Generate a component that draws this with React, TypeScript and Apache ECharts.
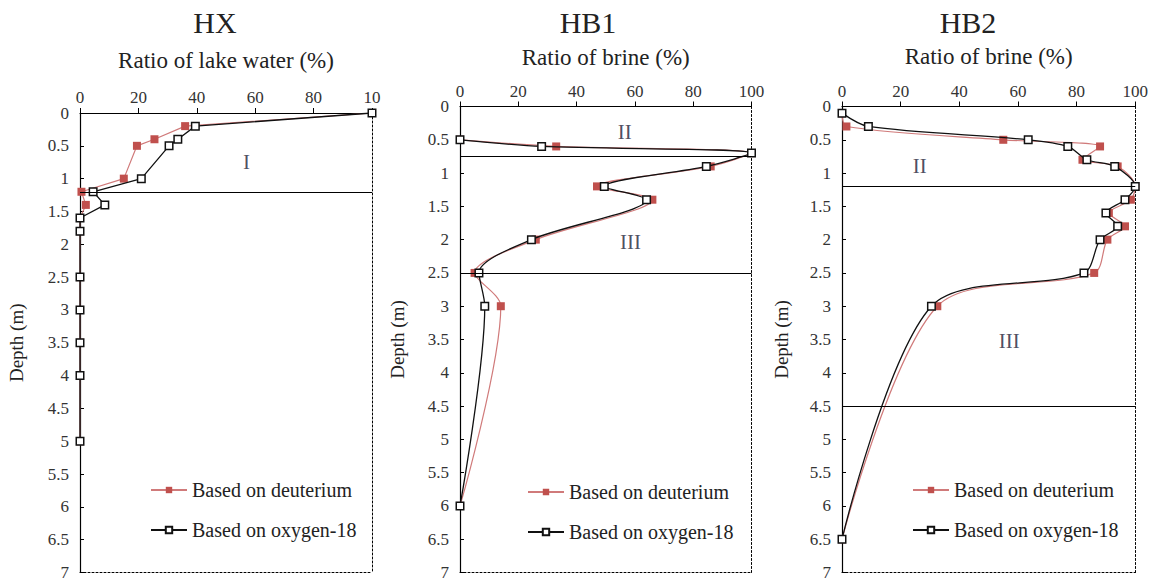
import { useEffect, useRef } from 'react';
import * as echarts from 'echarts';

const PANEL_TITLES = ['HX', 'HB1', 'HB2'];
const X_AXIS_NAMES = ['Ratio of lake water (%)', 'Ratio of brine (%)', 'Ratio of brine (%)'];
const Y_AXIS_NAME = 'Depth (m)';
const SERIES_NAMES = ['Based on deuterium', 'Based on oxygen-18'];

// HX
const HX_DEPTH = [0, 0.2, 0.4, 0.5, 1.0, 1.2, 1.4, 1.6, 1.8, 2.5, 3, 3.5, 4, 5];
const HX_DEUTERIUM = [100, 36, 25.5, 19.5, 15, 0.5, 2, 0, 0, 0, 0, 0, 0, 0];
const HX_OXYGEN18 = [100, 39.5, 33.5, 30.5, 21, 4.5, 8.5, 0, 0, 0, 0, 0, 0, 0];
const HX_BOUNDARIES = [1.2];
const HX_ZONES = [{ text: 'I', x: 57, depth: 0.74 }];

// HB1
const HB1_DEPTH = [0.5, 0.6, 0.7, 0.9, 1.2, 1.4, 2.0, 2.5, 3.0, 6.0];
const HB1_DEUTERIUM = [0, 33, 100, 86, 47, 66, 26, 5, 14, 0];
const HB1_OXYGEN18 = [0, 28, 100, 84.5, 49.5, 64, 24.5, 6.5, 8.5, 0];
const HB1_BOUNDARIES = [0.75, 2.5];
const HB1_ZONES = [
  { text: 'II', x: 56.5, depth: 0.38 },
  { text: 'III', x: 58.5, depth: 2.04 },
];

// HB2
const HB2_DEPTH = [0.1, 0.3, 0.5, 0.6, 0.8, 0.9, 1.2, 1.4, 1.6, 1.8, 2.0, 2.5, 3.0, 6.5];
const HB2_DEUTERIUM = [0, 1.5, 55, 88, 82, 94, 100, 98.5, 91, 96.5, 90.5, 86, 32.5, 0];
const HB2_OXYGEN18 = [0, 9, 63.5, 77, 83.5, 93, 100, 96.5, 90, 94, 88, 82.5, 30.5, 0];
const HB2_BOUNDARIES = [1.2, 4.5];
const HB2_ZONES = [
  { text: 'II', x: 26.5, depth: 0.9 },
  { text: 'III', x: 57, depth: 3.53 },
];

const X_MIN = 0;
const X_MAX = 100;
const X_STEP = 20;
const DEPTH_MIN = 0;
const DEPTH_MAX = 7;
const DEPTH_STEP = 0.5;

const FONT = 'Liberation Serif';
const RED_MARK = '#C0504D';
const RED_LINE = '#D07A7A';
const BLACK = '#111111';

const PANELS = [
  {
    depth: HX_DEPTH, d: HX_DEUTERIUM, o: HX_OXYGEN18, bounds: HX_BOUNDARIES, zones: HX_ZONES,
    grid: { left: 80, top: 113, width: 292, height: 462 },
    titleX: 215, nameGap: 41, yNameGap: 54, smooth: false as boolean | number,
    legend: { left: 150, top: 480 },
    topLabel100: '10',
  },
  {
    depth: HB1_DEPTH, d: HB1_DEUTERIUM, o: HB1_OXYGEN18, bounds: HB1_BOUNDARIES, zones: HB1_ZONES,
    grid: { left: 460, top: 106.5, width: 291.5, height: 469.5 },
    titleX: 588, nameGap: 37.5, yNameGap: 53, smooth: 0.3,
    legend: { left: 527, top: 482 },
    topLabel100: '100',
  },
  {
    depth: HB2_DEPTH, d: HB2_DEUTERIUM, o: HB2_OXYGEN18, bounds: HB2_BOUNDARIES, zones: HB2_ZONES,
    grid: { left: 842, top: 106.5, width: 294.5, height: 469.5 },
    titleX: 968, nameGap: 38.5, yNameGap: 51, smooth: 0.3,
    legend: { left: 912, top: 480 },
    topLabel100: '100',
  },
];

export default function App() {
  const ref = useRef<HTMLDivElement>(null);

  useEffect(() => {
    document.body.style.margin = '0';
    if (!ref.current) return;
    const chart = echarts.init(ref.current, undefined, { renderer: 'svg' });

    const grids: any[] = [];
    const xAxes: any[] = [];
    const yAxes: any[] = [];
    const series: any[] = [];
    const titles: any[] = [];
    const legends: any[] = [];

    PANELS.forEach((p, i) => {
      grids.push({ ...p.grid, containLabel: false });

      xAxes.push({
        gridIndex: i,
        type: 'value',
        position: 'top',
        min: X_MIN,
        max: X_MAX,
        interval: X_STEP,
        name: X_AXIS_NAMES[i],
        nameLocation: 'middle',
        nameGap: p.nameGap,
        nameTextStyle: { fontFamily: FONT, fontSize: 23, color: '#222' },
        axisLine: { show: true, lineStyle: { color: '#000', width: 1 } },
        axisTick: { show: true, length: 5, lineStyle: { color: '#000' } },
        axisLabel: {
          fontFamily: FONT, fontSize: 17, color: '#333', margin: 7,
          formatter: (v: number) => (v === 100 ? p.topLabel100 : String(v)),
        },
        splitLine: { show: false },
      });
      xAxes.push({
        gridIndex: i,
        type: 'value',
        position: 'bottom',
        min: X_MIN,
        max: X_MAX,
        axisLine: { show: true, onZero: false, lineStyle: { color: '#000', width: 1, type: [2, 2] } },
        axisTick: { show: false },
        axisLabel: { show: false },
        splitLine: { show: false },
      });
      yAxes.push({
        gridIndex: i,
        type: 'value',
        inverse: true,
        position: 'left',
        min: DEPTH_MIN,
        max: DEPTH_MAX,
        interval: DEPTH_STEP,
        name: Y_AXIS_NAME,
        nameLocation: 'middle',
        nameRotate: 90,
        nameGap: p.yNameGap,
        nameTextStyle: { fontFamily: FONT, fontSize: 19, color: '#222' },
        axisLine: { show: true, onZero: false, lineStyle: { color: '#000', width: 1.2 } },
        axisTick: { show: true, inside: true, length: 4, lineStyle: { color: '#000' } },
        axisLabel: { fontFamily: FONT, fontSize: 17, color: '#333', margin: 11 },
        splitLine: { show: false },
      });
      yAxes.push({
        gridIndex: i,
        type: 'value',
        inverse: true,
        position: 'right',
        min: DEPTH_MIN,
        max: DEPTH_MAX,
        axisLine: { show: true, onZero: false, lineStyle: { color: '#000', width: 1, type: [2, 2] } },
        axisTick: { show: false },
        axisLabel: { show: false },
        splitLine: { show: false },
      });

      const xIdx = i * 2;
      const yIdx = i * 2;

      series.push({
        type: 'line',
        name: SERIES_NAMES[0],
        xAxisIndex: xIdx,
        yAxisIndex: yIdx,
        data: p.depth.map((dd, k) => [p.d[k], dd]),
        smooth: p.smooth,
        symbol: 'rect',
        symbolSize: 8,
        lineStyle: { color: RED_LINE, width: 1.2 },
        itemStyle: { color: RED_MARK, borderColor: RED_MARK, borderWidth: 0 },
        z: 3,
      });
      series.push({
        type: 'line',
        name: SERIES_NAMES[1],
        xAxisIndex: xIdx,
        yAxisIndex: yIdx,
        data: p.depth.map((dd, k) => [p.o[k], dd]),
        smooth: p.smooth,
        symbol: 'rect',
        symbolSize: 7.5,
        showAllSymbol: true,
        lineStyle: { color: BLACK, width: 1.3 },
        itemStyle: { color: '#fff', borderColor: BLACK, borderWidth: 1.5 },
        z: 4,
        markLine: {
          silent: true,
          symbol: 'none',
          label: { show: false },
          lineStyle: { color: '#000', type: 'solid', width: 1.2 },
          data: p.bounds.map((b) => ({ yAxis: b })),
        },
      });
      series.push({
        type: 'scatter',
        name: 'zones' + i,
        xAxisIndex: xIdx,
        yAxisIndex: yIdx,
        data: p.zones.map((z) => ({ value: [z.x, z.depth], name: z.text })),
        symbol: 'circle',
        symbolSize: 1,
        itemStyle: { color: 'rgba(0,0,0,0)' },
        silent: true,
        label: {
          show: true,
          position: 'inside',
          formatter: (prm: any) => prm.name,
          fontFamily: FONT,
          fontSize: 21,
          color: '#1d2238',
        },
        z: 5,
      });

      titles.push({
        text: PANEL_TITLES[i],
        left: p.titleX,
        top: 7,
        textAlign: 'center',
        padding: 0,
        textStyle: { fontFamily: FONT, fontSize: 30, fontWeight: 'normal', color: '#222' },
      });

      legends.push({
        data: SERIES_NAMES,
        orient: 'vertical',
        left: p.legend.left,
        top: p.legend.top,
        itemWidth: 36,
        itemHeight: 8,
        itemGap: 20,
        padding: 0,
        selectedMode: false,
        textStyle: { fontFamily: FONT, fontSize: 20, color: '#222' },
      });
    });

    chart.setOption({
      animation: false,
      backgroundColor: '#fff',
      textStyle: { fontFamily: FONT },
      title: titles,
      legend: legends,
      grid: grids,
      xAxis: xAxes,
      yAxis: yAxes,
      series,
    });

    return () => chart.dispose();
  }, []);

  return <div ref={ref} style={{ width: 1151, height: 581 }} />;
}
